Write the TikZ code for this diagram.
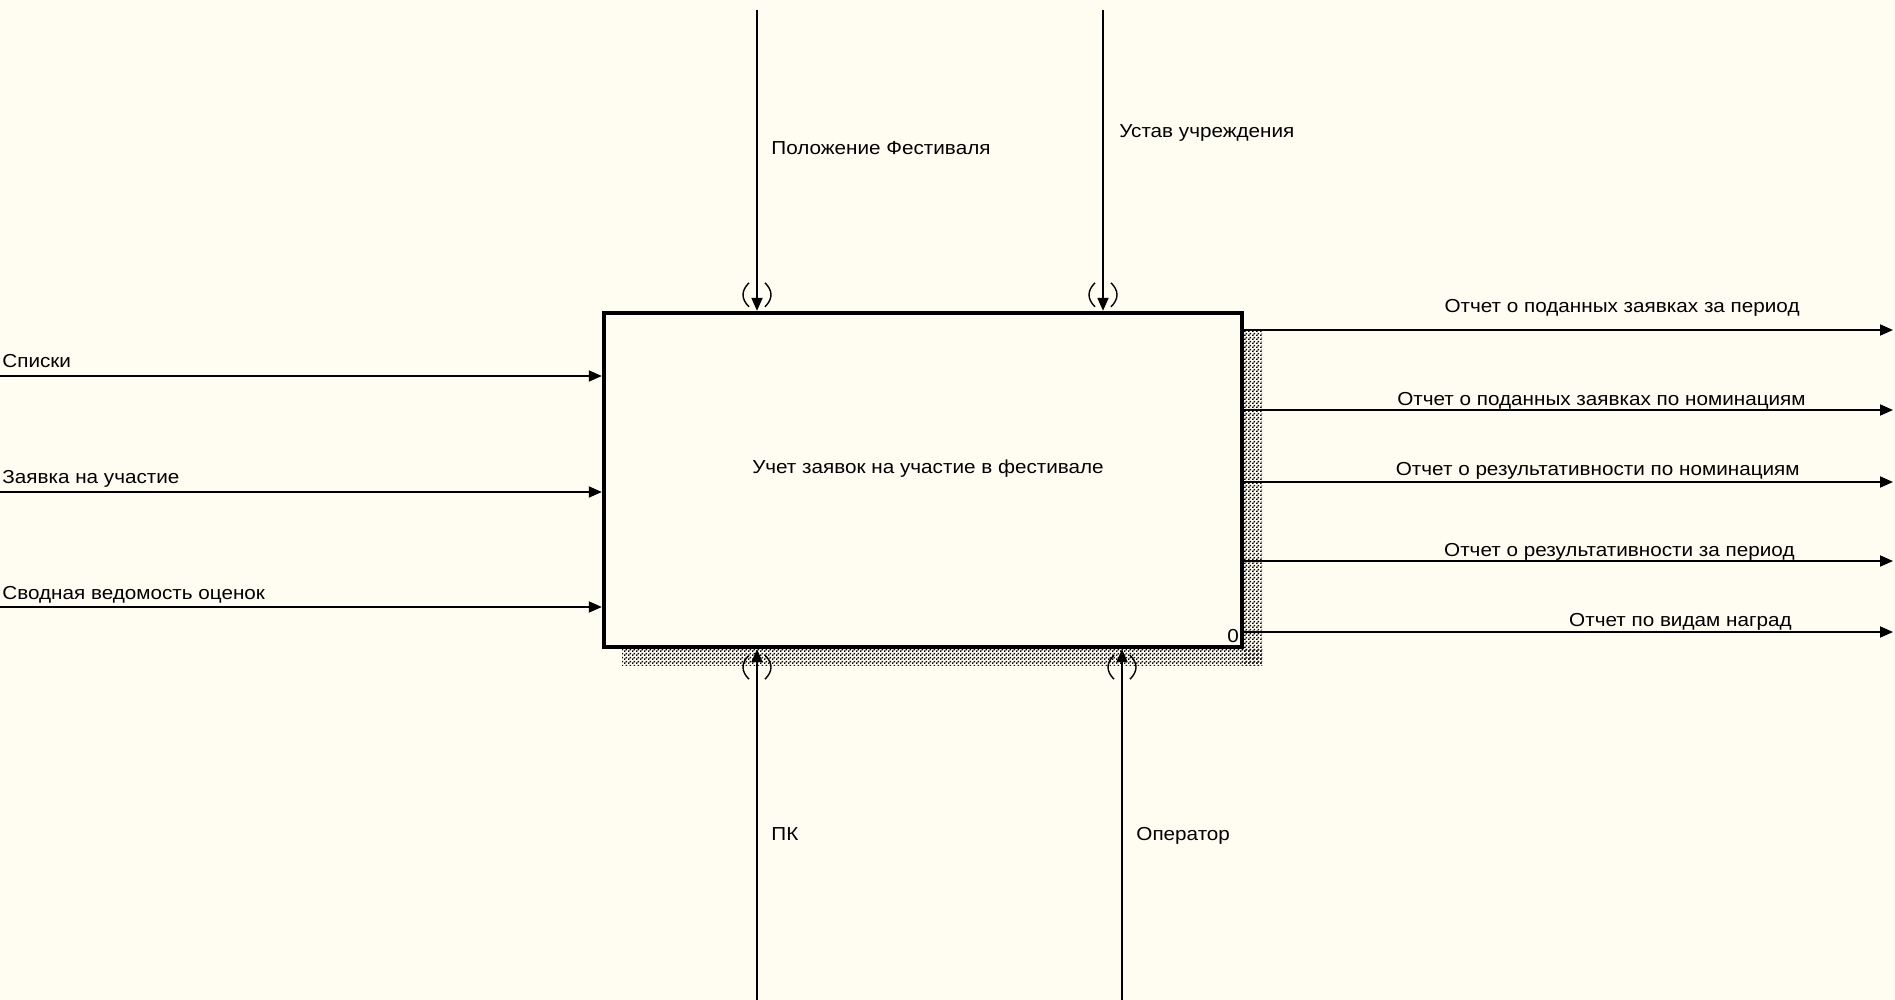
\documentclass[tikz,border=0pt]{standalone}
\usepackage{fontspec}
\setmainfont{Liberation Sans}[FakeStretch=1.1]
\usetikzlibrary{calc,positioning,arrows.meta,patterns.meta}
\tikzset{>={Triangle[width=5.5pt,length=6.5pt]}}
\definecolor{paper}{RGB}{255,252,241}

\tikzdeclarepattern{
  name=shadowdots,
  type=uncolored,
  bottom left={(0pt,0pt)},
  top right={(2pt,2pt)},
  tile size={(2pt,2pt)},
  code={
    \pgfpathrectangle{\pgfpointorigin}{\pgfpoint{0.9pt}{0.9pt}}
    \pgfpathrectangle{\pgfpoint{1pt}{1pt}}{\pgfpoint{0.9pt}{0.9pt}}
    \pgfusepath{fill}
  }
}

\begin{document}
\begin{tikzpicture}[x=0.5pt,y=-0.5pt]
    \tikzstyle{funcbox} = [draw, rectangle, line width=2.2pt, minimum width=319pt, minimum height=167pt, inner sep=0pt, fill=paper]
    \tikzstyle{flow} = [->, line width=0.9pt]
    \tikzstyle{lbl} = [inner sep=0pt, font=\fontsize{9.4}{11}\selectfont]
    \tikzstyle{tunnel} = [line width=0.7pt]

    \fill[paper] (0,0) rectangle (1895,1000);
    \useasboundingbox (0,0) rectangle (1895,1000);

    % shadow of the function box
    \fill[pattern=shadowdots, pattern color=black] (622,647) rectangle (1262,665);
    \fill[pattern=shadowdots, pattern color=black] (1242,330) rectangle (1262,665);

    \node[funcbox] (func) at (923,480) {};
    \node[lbl] (ftitle) at (928,469) {Учет заявок на участие в фестивале};
    \node[lbl, anchor=south east] (fnum) at (func.south east) [xshift=-2.5pt, yshift=3pt] {0};

    % inputs
    \coordinate (in1) at (0,376);
    \coordinate (in2) at (0,492);
    \coordinate (in3) at (0,607);
    \draw[flow] (in1) -- (in1 -| func.west);
    \draw[flow] (in2) -- (in2 -| func.west);
    \draw[flow] (in3) -- (in3 -| func.west);
    \node[lbl, anchor=base west] (lin1) at (2,367) {Списки};
    \node[lbl, anchor=base west] (lin2) at (2,483) {Заявка на участие};
    \node[lbl, anchor=base west] (lin3) at (2,599) {Сводная ведомость оценок};

    % outputs
    \coordinate (out1) at (1893,330);
    \coordinate (out2) at (1893,410);
    \coordinate (out3) at (1893,482);
    \coordinate (out4) at (1893,561);
    \coordinate (out5) at (1893,632);
    \foreach \o in {out1,out2,out3,out4,out5}
      \draw[flow] (\o -| func.east) -- (\o);
    \node[lbl, anchor=base east] (lout1) at (1800,313) {Отчет о поданных заявках за период};
    \node[lbl, anchor=base east] (lout2) at (1806,405) {Отчет о поданных заявках по номинациям};
    \node[lbl, anchor=base east] (lout3) at (1800,475) {Отчет о результативности по номинациям};
    \node[lbl, anchor=base east] (lout4) at (1795,556) {Отчет о результативности за период};
    \node[lbl, anchor=base east] (lout5) at (1792,626) {Отчет по видам наград};

    % controls
    \coordinate (ctl1) at (757,10);
    \coordinate (ctl2) at (1103,10);
    \draw[flow] (ctl1) -- (ctl1 |- func.north);
    \draw[flow] (ctl2) -- (ctl2 |- func.north);
    \node[lbl, anchor=base west] (lctl1) at (771,155) {Положение Фестиваля};
    \node[lbl, anchor=base west] (lctl2) at (1119,138) {Устав учреждения};

    % mechanisms
    \coordinate (mech1) at (757,1000);
    \coordinate (mech2) at (1122,1000);
    \draw[flow] (mech1) -- (mech1 |- func.south);
    \draw[flow] (mech2) -- (mech2 |- func.south);
    \node[lbl, anchor=base west] (lmech1) at (771,840) {ПК};
    \node[lbl, anchor=base west] (lmech2) at (1136,840) {Оператор};

    % tunnels
    \foreach \t in {ctl1,ctl2} {
      \draw[tunnel] ($(\t |- func.north)+(-8,-28)$) .. controls +(-8,8) and +(-8,-8) .. ++(0,24);
      \draw[tunnel] ($(\t |- func.north)+(8,-28)$) .. controls +(8,8) and +(8,-8) .. ++(0,24);
    }
    \foreach \t in {mech1,mech2} {
      \draw[tunnel] ($(\t |- func.south)+(-8,6)$) .. controls +(-8,8) and +(-8,-8) .. ++(0,24);
      \draw[tunnel] ($(\t |- func.south)+(8,6)$) .. controls +(8,8) and +(8,-8) .. ++(0,24);
    }
\end{tikzpicture}
\end{document}
